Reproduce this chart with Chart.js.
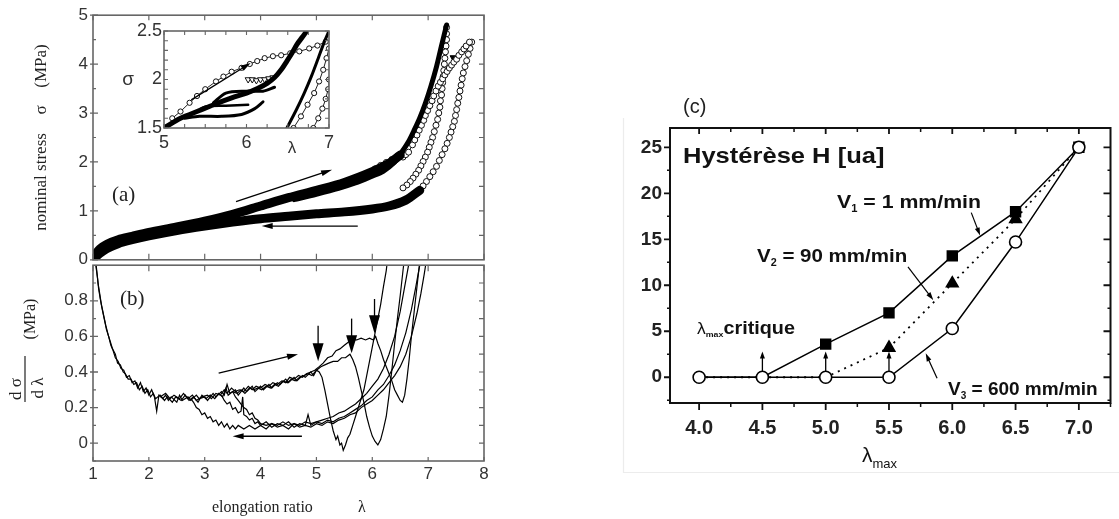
<!DOCTYPE html>
<html><head><meta charset="utf-8">
<script src="https://cdn.jsdelivr.net/npm/chart.js@4.4.1/dist/chart.umd.min.js"></script>
<style>
html,body{margin:0;padding:0;background:#fff;}
#wrap{position:relative;width:1119px;height:519px;overflow:hidden;background:#fff;}
canvas{position:absolute;}
</style></head><body>
<div id="wrap">
<canvas id="cA" width="500" height="275" style="left:0;top:0"></canvas>
<canvas id="cB" width="500" height="269" style="left:0;top:250px"></canvas>
<canvas id="cI" width="240" height="140" style="left:100px;top:20px"></canvas>
<canvas id="cC" width="499" height="439" style="left:620px;top:80px"></canvas>
</div>
<script>
// ---------- tick labels ----------
const abXTicks = [1,2,3,4,5,6,7,8];
const aYTicks = [0,1,2,3,4,5];
const bYTicks = [0,0.2,0.4,0.6,0.8];
const inXTicks = [5,6,7];
const inYTicks = [1.5,2,2.5];
const cXTicks = [4.0,4.5,5.0,5.5,6.0,6.5,7.0];
const cYTicks = [0,5,10,15,20,25];

// ---------- panel (c) data ----------
const cLambda = [4.0,4.5,5.0,5.5,6.0,6.5,7.0];
const cV1 = [0,0,3.6,7.0,13.2,18.0,25.0];
const cV2 = [0,0,0,3.2,10.2,17.2,25.0];
const cV3 = [0,0,0,0,5.3,14.7,25.0];

// ---------- panel (a) data: [lambda, sigma] ----------
const aLoad = [[1.0,0.0],[1.05,0.12],[1.12,0.22],[1.25,0.32],[1.45,0.41],[1.7,0.48],[2.0,0.56],[2.5,0.67],[3.0,0.79],[3.5,0.93],[4.0,1.1],[4.5,1.27],[5.0,1.42],[5.5,1.58],[6.0,1.8],[6.3,1.97],[6.5,2.14]];
const aLoadSteep = [[6.45,2.08],[6.55,2.24],[6.65,2.42],[6.75,2.65],[6.85,2.9],[6.95,3.2],[7.05,3.55],[7.15,3.95],[7.24,4.38],[7.33,4.8]];
const aUnload = [[6.85,1.42],[6.6,1.22],[6.3,1.1],[6.0,1.04],[5.5,0.98],[5.0,0.94],[4.5,0.89],[4.0,0.84],[3.5,0.77],[3.0,0.69],[2.5,0.6],[2.0,0.49],[1.7,0.41],[1.45,0.33],[1.25,0.23],[1.12,0.13],[1.05,0.06],[1.0,0.0]];
const aMidUnload = [[6.55,2.2],[6.4,1.98],[6.2,1.8],[6.0,1.7],[5.7,1.56],[5.4,1.45],[5.0,1.33],[4.6,1.22]];
const aMidReload = [[5.85,1.72],[5.95,1.79],[6.05,1.86],[6.15,1.93],[6.25,1.99],[6.35,2.05],[6.45,2.12]];
const aOpenLoad = [[6.55,2.1],[6.6,2.15],[6.65,2.2],[6.72,2.35],[6.76,2.45],[6.8,2.55],[6.84,2.65],[6.88,2.75],[6.92,2.85],[6.95,2.95],[6.99,3.05],[7.03,3.15],[7.07,3.25],[7.1,3.35],[7.14,3.45],[7.18,3.55],[7.22,3.63],[7.26,3.7],[7.3,3.78],[7.34,3.85],[7.38,3.92],[7.42,3.98],[7.46,4.04],[7.51,4.1],[7.55,4.18],[7.6,4.25],[7.64,4.31],[7.68,4.37],[7.74,4.45]];
const aOpenUnload1 = [[7.33,4.75],[7.33,4.62],[7.33,4.5],[7.32,4.37],[7.31,4.25],[7.3,4.12],[7.29,4.0],[7.28,3.87],[7.27,3.75],[7.26,3.62],[7.25,3.5],[7.24,3.37],[7.22,3.25],[7.21,3.12],[7.19,3.0],[7.17,2.87],[7.14,2.75],[7.11,2.62],[7.08,2.5],[7.05,2.4],[7.02,2.3],[6.99,2.2],[6.95,2.1],[6.91,2.01],[6.87,1.92],[6.83,1.83],[6.78,1.75],[6.73,1.67],[6.68,1.6],[6.62,1.53],[6.55,1.47]];
const aOpenUnload2 = [[7.78,4.45],[7.75,4.32],[7.72,4.2],[7.69,4.07],[7.66,3.95],[7.63,3.82],[7.61,3.7],[7.59,3.57],[7.57,3.45],[7.55,3.32],[7.53,3.2],[7.51,3.07],[7.49,2.95],[7.47,2.83],[7.44,2.72],[7.41,2.61],[7.38,2.5],[7.34,2.38],[7.3,2.27],[7.25,2.15],[7.2,2.03],[7.15,1.91],[7.09,1.8],[7.03,1.7],[6.97,1.6],[6.91,1.51],[6.85,1.42]];
const aLoneTri = [[7.47,4.12]];

// ---------- inset data ----------
const inMain = [[5.0,1.5],[5.2,1.6],[5.43,1.68],[5.6,1.74],[5.82,1.81],[6.0,1.86],[6.14,1.91],[6.25,1.96],[6.34,2.02],[6.42,2.1],[6.49,2.19],[6.55,2.27],[6.61,2.36],[6.68,2.44],[6.73,2.5]];
const inLoop1 = [[5.25,1.6],[5.43,1.62],[5.7,1.62],[5.94,1.64],[6.1,1.7],[6.2,1.77]];
const inLoop2 = [[5.38,1.66],[5.5,1.72],[5.75,1.73],[6.02,1.74]];
const inLoop3 = [[5.6,1.76],[5.75,1.86],[6.0,1.88],[6.2,1.88],[6.34,1.92]];
const inTri = [[6.02,2.0],[6.07,2.0],[6.12,1.99],[6.17,2.0],[6.22,2.0],[6.27,2.01],[6.32,2.02]];
const inUpper = [[5.1,1.6],[5.2,1.67],[5.31,1.76],[5.4,1.83],[5.5,1.9],[5.63,1.98],[5.72,2.03],[5.82,2.08],[5.94,2.12],[6.04,2.16],[6.13,2.19],[6.22,2.22],[6.32,2.24],[6.42,2.25],[6.53,2.27],[6.64,2.29],[6.76,2.32],[6.86,2.35],[6.96,2.39]];
const inSteepA = [[6.49,1.5],[6.6,1.68],[6.7,1.86],[6.79,2.04],[6.87,2.22],[6.94,2.38],[7.0,2.5]];
const inSteepB = [[6.57,1.5],[6.66,1.62],[6.74,1.74],[6.82,1.86],[6.88,1.98],[6.93,2.1],[6.97,2.22],[7.0,2.32]];
const inSteepC = [[6.81,1.5],[6.87,1.6],[6.92,1.7],[6.96,1.8],[6.99,1.9],[7.0,2.0]];

// ---------- panel (b) data: [lambda, dsigma/dlambda] ----------
const bC1 = [[1.05,1.0],[1.08,0.93],[1.1,0.87],[1.13,0.81],[1.16,0.76],[1.2,0.7],[1.24,0.64],[1.28,0.6],[1.32,0.55],[1.36,0.52],[1.4,0.48],[1.45,0.46],[1.5,0.42],[1.55,0.41],[1.6,0.37],[1.65,0.38],[1.7,0.34],[1.75,0.35],[1.8,0.31],[1.85,0.34],[1.9,0.29],[1.95,0.31],[2.0,0.27],[2.05,0.3],[2.1,0.26],[2.14,0.18],[2.18,0.27],[2.25,0.25],[2.3,0.27],[2.35,0.24],[2.4,0.26],[2.5,0.23],[2.55,0.27],[2.6,0.24],[2.7,0.26],[2.75,0.24],[2.85,0.27],[2.9,0.25],[3.0,0.26],[3.05,0.24],[3.15,0.28],[3.2,0.26],[3.3,0.29],[3.35,0.27],[3.4,0.33],[3.45,0.28],[3.55,0.3],[3.6,0.27],[3.7,0.31],[3.75,0.29],[3.85,0.32],[3.9,0.29],[4.0,0.32],[4.05,0.3],[4.15,0.33],[4.2,0.31],[4.3,0.34],[4.35,0.33],[4.45,0.36],[4.5,0.34],[4.6,0.37],[4.65,0.35],[4.75,0.38],[4.8,0.37],[4.9,0.4],[4.95,0.38],[5.0,0.41],[5.05,0.4],[5.1,0.37],[5.15,0.3],[5.2,0.22],[5.25,0.14],[5.3,0.07],[5.35,0.02],[5.38,0.04],[5.42,-0.01],[5.45,0.0],[5.48,-0.04],[5.52,-0.01],[5.56,0.03],[5.6,0.05],[5.65,0.1],[5.7,0.15],[5.75,0.2],[5.8,0.25],[5.85,0.3],[5.9,0.38],[5.95,0.46],[6.0,0.54],[6.05,0.62],[6.1,0.7],[6.15,0.78],[6.2,0.88],[6.25,0.97],[6.28,1.05]];
const bC2 = [[1.05,1.02],[1.09,0.9],[1.12,0.84],[1.15,0.78],[1.19,0.72],[1.23,0.66],[1.27,0.61],[1.31,0.57],[1.35,0.53],[1.4,0.5],[1.44,0.45],[1.49,0.44],[1.54,0.4],[1.58,0.39],[1.63,0.36],[1.68,0.36],[1.73,0.33],[1.78,0.34],[1.83,0.3],[1.88,0.32],[1.93,0.28],[1.98,0.3],[2.03,0.26],[2.08,0.28],[2.12,0.25],[2.2,0.27],[2.28,0.24],[2.33,0.26],[2.42,0.23],[2.48,0.26],[2.58,0.24],[2.65,0.27],[2.72,0.24],[2.8,0.26],[2.88,0.23],[2.95,0.27],[3.02,0.25],[3.1,0.27],[3.18,0.25],[3.25,0.28],[3.32,0.26],[3.38,0.31],[3.42,0.27],[3.5,0.29],[3.58,0.28],[3.65,0.3],[3.72,0.28],[3.8,0.31],[3.88,0.3],[3.95,0.31],[4.02,0.3],[4.1,0.32],[4.18,0.31],[4.25,0.33],[4.32,0.32],[4.4,0.35],[4.48,0.34],[4.55,0.36],[4.62,0.35],[4.7,0.37],[4.78,0.38],[4.85,0.39],[4.92,0.38],[5.0,0.41],[5.08,0.43],[5.15,0.44],[5.22,0.45],[5.3,0.46],[5.38,0.46],[5.45,0.48],[5.52,0.48],[5.6,0.5],[5.65,0.47],[5.7,0.43],[5.75,0.37],[5.8,0.3],[5.85,0.23],[5.9,0.15],[5.95,0.09],[6.0,0.04],[6.05,0.01],[6.1,-0.01],[6.15,0.02],[6.2,0.08],[6.25,0.15],[6.3,0.27],[6.35,0.41],[6.4,0.56],[6.45,0.7],[6.5,0.83],[6.55,0.97],[6.58,1.05]];
const bC3 = [[2.2,0.26],[2.3,0.28],[2.38,0.25],[2.45,0.27],[2.55,0.25],[2.62,0.28],[2.7,0.25],[2.78,0.27],[2.85,0.24],[2.95,0.26],[3.05,0.27],[3.12,0.25],[3.2,0.28],[3.28,0.27],[3.35,0.3],[3.4,0.28],[3.48,0.31],[3.55,0.29],[3.62,0.3],[3.7,0.29],[3.78,0.32],[3.85,0.3],[3.92,0.32],[4.0,0.31],[4.08,0.33],[4.15,0.32],[4.22,0.34],[4.3,0.33],[4.38,0.35],[4.45,0.34],[4.52,0.37],[4.6,0.36],[4.68,0.38],[4.75,0.37],[4.82,0.39],[4.9,0.4],[4.97,0.41],[5.05,0.43],[5.12,0.45],[5.2,0.48],[5.28,0.49],[5.35,0.52],[5.42,0.53],[5.5,0.55],[5.58,0.57],[5.65,0.58],[5.72,0.58],[5.8,0.59],[5.88,0.58],[5.95,0.59],[6.02,0.58],[6.06,0.6],[6.1,0.56],[6.15,0.52],[6.2,0.47],[6.25,0.43],[6.3,0.39],[6.35,0.35],[6.4,0.3],[6.45,0.27],[6.5,0.24],[6.54,0.23],[6.58,0.27],[6.62,0.36],[6.66,0.47],[6.7,0.6],[6.75,0.74],[6.8,0.88],[6.85,1.02],[6.87,1.05]];
const bU1 = [[2.75,0.25],[2.8,0.23],[2.85,0.2],[2.9,0.19],[2.95,0.16],[3.0,0.17],[3.05,0.14],[3.1,0.15],[3.15,0.12],[3.2,0.13],[3.25,0.1],[3.3,0.12],[3.35,0.09],[3.4,0.11],[3.45,0.08],[3.5,0.1],[3.55,0.08],[3.6,0.1],[3.7,0.08],[3.8,0.1],[3.9,0.08],[4.0,0.1],[4.1,0.08],[4.2,0.11],[4.3,0.09],[4.4,0.1],[4.5,0.08],[4.6,0.11],[4.7,0.09],[4.8,0.1],[4.9,0.09],[5.0,0.11],[5.1,0.1],[5.2,0.12],[5.3,0.11],[5.4,0.13],[5.5,0.14],[5.6,0.16],[5.7,0.17],[5.8,0.2],[5.9,0.22],[6.0,0.24],[6.1,0.27],[6.2,0.3],[6.3,0.34],[6.4,0.38],[6.5,0.43],[6.6,0.5],[6.7,0.6],[6.8,0.73],[6.87,0.84],[6.93,0.95],[6.98,1.05]];
const bU2 = [[3.3,0.27],[3.35,0.24],[3.4,0.22],[3.45,0.23],[3.5,0.19],[3.55,0.2],[3.6,0.17],[3.65,0.18],[3.68,0.26],[3.7,0.16],[3.75,0.15],[3.8,0.13],[3.85,0.14],[3.9,0.11],[3.95,0.12],[4.0,0.1],[4.1,0.12],[4.2,0.09],[4.3,0.11],[4.4,0.1],[4.5,0.12],[4.6,0.09],[4.7,0.11],[4.8,0.1],[4.85,0.16],[4.9,0.1],[5.0,0.12],[5.1,0.11],[5.2,0.13],[5.3,0.12],[5.4,0.14],[5.5,0.15],[5.6,0.17],[5.7,0.19],[5.8,0.21],[5.9,0.24],[6.0,0.26],[6.1,0.3],[6.2,0.33],[6.3,0.38],[6.4,0.44],[6.5,0.52],[6.6,0.62],[6.7,0.75],[6.78,0.88],[6.85,1.0],[6.88,1.05]];
const bU3 = [[3.5,0.29],[3.55,0.26],[3.6,0.24],[3.65,0.22],[3.7,0.2],[3.75,0.19],[3.8,0.16],[3.85,0.17],[3.9,0.14],[3.95,0.13],[4.0,0.11],[4.1,0.1],[4.2,0.11],[4.3,0.1],[4.4,0.12],[4.5,0.1],[4.6,0.11],[4.7,0.1],[4.8,0.12],[4.9,0.11],[5.0,0.12],[5.1,0.13],[5.2,0.14],[5.3,0.15],[5.4,0.17],[5.5,0.18],[5.6,0.2],[5.7,0.22],[5.8,0.25],[5.9,0.28],[6.0,0.32],[6.1,0.36],[6.2,0.42],[6.3,0.5],[6.4,0.6],[6.5,0.74],[6.58,0.88],[6.65,1.0],[6.68,1.05]];

// ---------- annotation placements (data coordinates) ----------
const annA = {arrows:[[3.56,1.19,5.28,1.84],[5.74,0.69,4.02,0.69]]};
const annB = {arrows:[[3.25,0.394,4.67,0.5],[4.74,0.039,3.5,0.039]], down:[[5.03,0.66,0.46],[5.63,0.70,0.505],[6.04,0.81,0.617]]};
const annI = {arrows:[[5.33,1.79,6.05,2.17]]};
const annC = {leaders:[[6.15,17.9,6.22,15.4],[5.65,12.0,5.85,8.4],[5.88,-0.1,5.79,2.6]], critique:[4.5,5.0,5.5]};

// ---------- helpers ----------
const xy = arr => arr.map(p => ({x:p[0], y:p[1]}));
const SANS = "'Liberation Sans', Arial, sans-serif";
const SERIF = "'Liberation Serif', 'Times New Roman', serif";

function arrow(ctx,x1,y1,x2,y2,hl,hw,lw){
  const a=Math.atan2(y2-y1,x2-x1), c=Math.cos(a), s=Math.sin(a);
  ctx.save(); ctx.lineWidth=lw; ctx.strokeStyle='#000'; ctx.fillStyle='#000';
  ctx.beginPath(); ctx.moveTo(x1,y1); ctx.lineTo(x2-c*hl*0.7,y2-s*hl*0.7); ctx.stroke();
  ctx.beginPath(); ctx.moveTo(x2,y2);
  ctx.lineTo(x2-c*hl-s*hw/2, y2-s*hl+c*hw/2);
  ctx.lineTo(x2-c*hl+s*hw/2, y2-s*hl-c*hw/2);
  ctx.closePath(); ctx.fill(); ctx.restore();
}
function frame(chart,color,lw){
  const a=chart.chartArea, ctx=chart.ctx;
  ctx.save(); ctx.strokeStyle=color; ctx.lineWidth=lw;
  ctx.strokeRect(a.left,a.top,a.right-a.left,a.bottom-a.top); ctx.restore();
}
function tickMarks(chart,edge,vals,inLen,outLen,color,lw){
  const a=chart.chartArea, ctx=chart.ctx;
  ctx.save(); ctx.strokeStyle=color; ctx.lineWidth=lw; ctx.beginPath();
  vals.forEach(v=>{
    if(edge==='top'||edge==='bottom'){
      const x=chart.scales.x.getPixelForValue(v);
      if(x<a.left-0.5||x>a.right+0.5) return;
      const y0=edge==='top'?a.top:a.bottom, d=edge==='top'?1:-1;
      ctx.moveTo(x,y0-d*outLen); ctx.lineTo(x,y0+d*inLen);
    } else {
      const y=chart.scales.y.getPixelForValue(v);
      if(y<a.top-0.5||y>a.bottom+0.5) return;
      const x0=edge==='left'?a.left:a.right, d=edge==='left'?1:-1;
      ctx.moveTo(x0-d*outLen,y); ctx.lineTo(x0+d*inLen,y);
    }
  });
  ctx.stroke(); ctx.restore();
}
function range(a,b,step){const r=[];for(let v=a;v<=b+1e-9;v+=step)r.push(+v.toFixed(4));return r;}
function textRot(ctx,txt,x,y,font,color){
  ctx.save(); ctx.translate(x,y); ctx.rotate(-Math.PI/2); ctx.font=font; ctx.fillStyle=color;
  ctx.textAlign='center'; ctx.textBaseline='middle'; ctx.fillText(txt,0,0); ctx.restore();
}
function runText(ctx,x,y,parts,sx){
  ctx.save(); ctx.translate(x,y); ctx.scale(sx,1); ctx.fillStyle='#111'; ctx.textBaseline='alphabetic'; ctx.textAlign='left';
  let cx=0;
  parts.forEach(p=>{ ctx.font=p[1]; ctx.fillText(p[0],cx,p[2]||0); cx+=ctx.measureText(p[0]).width; });
  ctx.restore();
}
const baseOpts = {responsive:false, animation:false, events:[], plugins:{legend:{display:false}, tooltip:{enabled:false}}};
function lineDs(data,bw,extra){return Object.assign({data:xy(data),borderColor:'#000',backgroundColor:'#000',borderWidth:bw,pointRadius:0,tension:0,fill:false,borderJoinStyle:'round',borderCapStyle:'round'},extra||{});}
function openDs(data,r,extra){return Object.assign({data:xy(data),borderColor:'#222',backgroundColor:'#fff',borderWidth:1,pointRadius:r,pointBorderWidth:1,pointBackgroundColor:'#fff',pointBorderColor:'#111',tension:0,fill:false},extra||{});}

// ---------- panel (a) ----------
new Chart(document.getElementById('cA'),{
  type:'line',
  data:{datasets:[
    lineDs(aLoad,9,{tension:0.3}),
    lineDs(aUnload,9,{tension:0.3}),
    lineDs(aLoadSteep,5,{tension:0.3}),
    lineDs(aMidUnload,4,{tension:0.3}),
    openDs(aMidReload,3),
    openDs(aOpenLoad,3),
    openDs(aOpenUnload1,3),
    openDs(aOpenUnload2,3),
    {data:xy(aLoneTri),showLine:false,pointStyle:'triangle',rotation:180,pointRadius:5,pointBackgroundColor:'#000',pointBorderColor:'#000'}
  ]},
  options:Object.assign({},baseOpts,{
    layout:{padding:{top:15,right:16,bottom:13,left:0}},
    scales:{
      x:{type:'linear',min:1,max:8,display:false},
      y:{type:'linear',min:0,max:5,afterFit(s){s.width=93;},afterBuildTicks(s){s.ticks=aYTicks.map(v=>({value:v}));},
         grid:{display:false,drawTicks:false},border:{display:false},
         ticks:{font:{family:SANS,size:17},color:'#333',padding:5}}
    }
  }),
  plugins:[{id:'decA',afterDraw(chart){
    const ctx=chart.ctx, X=v=>chart.scales.x.getPixelForValue(v), Y=v=>chart.scales.y.getPixelForValue(v);
    frame(chart,'#666',1.6);
    tickMarks(chart,'left',aYTicks,5,3,'#666',1.3);
    tickMarks(chart,'left',range(0.5,4.5,1),3,0,'#666',1.2);
    tickMarks(chart,'right',range(0.5,4.5,0.5),5,0,'#666',1.2);
    tickMarks(chart,'top',abXTicks,5,0,'#666',1.2);
    tickMarks(chart,'bottom',abXTicks,6,0,'#666',1.2);
    annA.arrows.forEach(a=>arrow(ctx,X(a[0]),Y(a[1]),X(a[2]),Y(a[3]),11,6,1.3));
    ctx.save(); ctx.fillStyle='#222'; ctx.font='21px '+SERIF; ctx.textBaseline='alphabetic';
    ctx.fillText('(a)',112,201); ctx.restore();
    textRot(ctx,'nominal stress',42,182,'17px '+SERIF,'#222');
    textRot(ctx,'σ',42,110,'17px '+SERIF,'#222');
    textRot(ctx,'(MPa)',42,66,'17px '+SERIF,'#222');
  }}]
});

// ---------- inset ----------
new Chart(document.getElementById('cI'),{
  type:'line',
  data:{datasets:[
    lineDs(inMain,5,{tension:0.3}),
    lineDs(inLoop1,3,{tension:0.3}),
    lineDs(inLoop2,2.5,{tension:0.3}),
    lineDs(inLoop3,3,{tension:0.3}),
    lineDs(inSteepA,3,{tension:0.3}),
    openDs(inUpper,2.6),
    openDs(inSteepB,2.6),
    openDs(inSteepC,2.6),
    {data:xy(inTri),showLine:false,pointStyle:'triangle',rotation:180,pointRadius:3.5,pointBackgroundColor:'#fff',pointBorderColor:'#111',pointBorderWidth:1}
  ]},
  options:Object.assign({},baseOpts,{
    layout:{padding:{top:9,right:7,bottom:0,left:0}},
    scales:{
      x:{type:'linear',min:5,max:7,afterFit(s){s.height=32;},afterBuildTicks(s){s.ticks=inXTicks.map(v=>({value:v}));},
         grid:{display:false,drawTicks:false},border:{display:false},
         ticks:{font:{family:SANS,size:18,lineHeight:1},color:'#333',padding:6,maxRotation:0}},
      y:{type:'linear',min:1.5,max:2.5,afterFit(s){s.width=64;},afterBuildTicks(s){s.ticks=inYTicks.map(v=>({value:v}));},
         grid:{display:false,drawTicks:false},border:{display:false},
         ticks:{font:{family:SANS,size:18,lineHeight:1},color:'#333',padding:2,callback:v=>String(v)}}
    }
  }),
  plugins:[{id:'decI',afterDraw(chart){
    const ctx=chart.ctx, X=v=>chart.scales.x.getPixelForValue(v), Y=v=>chart.scales.y.getPixelForValue(v);
    frame(chart,'#666',1.6);
    const xt=range(5,7,0.25), yt=range(1.5,2.5,0.1);
    tickMarks(chart,'top',xt,4,0,'#666',1.1);
    tickMarks(chart,'bottom',xt,4,0,'#666',1.1);
    tickMarks(chart,'left',yt,4,0,'#666',1.1);
    tickMarks(chart,'right',yt,4,0,'#666',1.1);
    annI.arrows.forEach(a=>arrow(ctx,X(a[0]),Y(a[1]),X(a[2]),Y(a[3]),10,6,1.3));
    ctx.save(); ctx.fillStyle='#333'; ctx.textAlign='center'; ctx.textBaseline='middle';
    ctx.font='19px '+SANS; ctx.fillText('σ',28,60);
    ctx.font='17px '+SANS; ctx.fillText('λ',192,128);
    ctx.restore();
  }}]
});

// ---------- panel (b) ----------
new Chart(document.getElementById('cB'),{
  type:'line',
  data:{datasets:[bC1,bC2,bC3,bU1,bU2,bU3].map(d=>lineDs(d,1.2,{borderJoinStyle:'miter',borderCapStyle:'butt'}))},
  options:Object.assign({},baseOpts,{
    layout:{padding:{top:12,right:16,bottom:0,left:0}},
    scales:{
      x:{type:'linear',min:1,max:8,afterFit(s){s.height=58;},afterBuildTicks(s){s.ticks=abXTicks.map(v=>({value:v}));},
         grid:{display:false,drawTicks:false},border:{display:false},
         ticks:{font:{family:SANS,size:17},color:'#333',padding:3,maxRotation:0}},
      y:{type:'linear',min:-0.1,max:1.0,afterFit(s){s.width=93;},afterBuildTicks(s){s.ticks=bYTicks.map(v=>({value:v}));},
         grid:{display:false,drawTicks:false},border:{display:false},
         ticks:{font:{family:SANS,size:17},color:'#333',padding:5,callback:v=>v===0?'0':v.toFixed(1)}}
    }
  }),
  plugins:[{id:'decB',afterDraw(chart){
    const ctx=chart.ctx, X=v=>chart.scales.x.getPixelForValue(v), Y=v=>chart.scales.y.getPixelForValue(v);
    frame(chart,'#666',1.6);
    tickMarks(chart,'left',bYTicks,5,3,'#666',1.3);
    tickMarks(chart,'left',range(-0.1,0.9,0.2),3,0,'#666',1.2);
    tickMarks(chart,'right',range(0,0.9,0.1),5,0,'#666',1.2);
    tickMarks(chart,'top',abXTicks,6,0,'#666',1.2);
    tickMarks(chart,'bottom',abXTicks,4,0,'#666',1.2);
    annB.arrows.forEach(a=>arrow(ctx,X(a[0]),Y(a[1]),X(a[2]),Y(a[3]),11,6,1.3));
    annB.down.forEach(a=>arrow(ctx,X(a[0]),Y(a[1]),X(a[0]),Y(a[2]),18,11,1.3));
    ctx.save(); ctx.fillStyle='#222'; ctx.font='21px '+SERIF; ctx.textBaseline='alphabetic';
    ctx.fillText('(b)',120,55);
    ctx.font='16px '+SERIF; ctx.fillText('elongation ratio',212,262); ctx.fillText('λ',358,262);
    ctx.restore();
    ctx.save(); ctx.translate(25,130); ctx.rotate(-Math.PI/2);
    ctx.strokeStyle='#222'; ctx.lineWidth=1.2; ctx.beginPath(); ctx.moveTo(-22,0); ctx.lineTo(24,0); ctx.stroke();
    ctx.fillStyle='#222'; ctx.font='17px '+SERIF; ctx.textAlign='center';
    ctx.textBaseline='alphabetic'; ctx.fillText('d σ',-9,-4);
    ctx.textBaseline='top'; ctx.fillText('d λ',-8,5);
    ctx.restore();
    textRot(ctx,'(MPa)',31,69,'16px '+SERIF,'#222');
  }}]
});

// ---------- panel (c) ----------
const cPts = ys => cLambda.map((x,i)=>({x,y:ys[i]}));
new Chart(document.getElementById('cC'),{
  type:'line',
  data:{datasets:[
    {label:'V1 = 1 mm/min',data:cPts(cV1),borderColor:'#000',borderWidth:1.5,tension:0,pointStyle:'rect',
     pointRadius:[0,0,7,7,7,7,7],pointBackgroundColor:['#000','#000','#000','#000','#000','#000','#fff'],pointBorderColor:'#000',pointBorderWidth:1.5,order:2},
    {label:'V2 = 90 mm/min',data:cPts(cV2),borderColor:'#000',borderWidth:1.8,borderDash:[2,5],tension:0,pointStyle:'triangle',
     pointRadius:[0,0,0,6.5,6.5,6.5,0],pointBackgroundColor:'#000',pointBorderColor:'#000',order:1},
    {label:'V3 = 600 mm/min',data:cPts(cV3),borderColor:'#000',borderWidth:1.5,tension:0,pointStyle:'circle',
     pointRadius:6,pointBackgroundColor:'#fff',pointBorderColor:'#000',pointBorderWidth:1.6,order:0}
  ]},
  options:Object.assign({},baseOpts,{
    layout:{padding:{top:48,right:1,bottom:0,left:0}},
    scales:{
      x:{type:'linear',min:3.77,max:7.25,afterFit(s){s.height=116;},afterBuildTicks(s){s.ticks=cXTicks.map(v=>({value:v}));},
         grid:{display:false,drawTicks:false},border:{display:false},
         ticks:{font:{family:SANS,size:20,weight:'bold'},color:'#222',padding:13,maxRotation:0,callback:v=>v.toFixed(1)}},
      y:{type:'linear',min:-2.8,max:27.1,afterFit(s){s.width=50;},afterBuildTicks(s){s.ticks=cYTicks.map(v=>({value:v}));},
         grid:{display:false,drawTicks:false},border:{display:false},
         ticks:{font:{family:SANS,size:19,weight:'bold'},color:'#222',padding:8}}
    }
  }),
  plugins:[{id:'decC',beforeDraw(chart){
    const ctx=chart.ctx; ctx.save(); ctx.strokeStyle='#ececec'; ctx.lineWidth=1.2;
    ctx.beginPath(); ctx.moveTo(3.5,38); ctx.lineTo(3.5,392.5); ctx.lineTo(499,392.5); ctx.stroke(); ctx.restore();
  },afterDraw(chart){
    const ctx=chart.ctx, X=v=>chart.scales.x.getPixelForValue(v), Y=v=>chart.scales.y.getPixelForValue(v);
    frame(chart,'#111',2);
    tickMarks(chart,'left',cYTicks,0,6,'#111',1.8);
    tickMarks(chart,'left',range(-2.5,22.5,5),0,3,'#111',1.5);
    tickMarks(chart,'right',cYTicks,7,0,'#111',1.8);
    tickMarks(chart,'right',range(-2.5,22.5,5),3,0,'#111',1.5);
    tickMarks(chart,'top',cXTicks,6,0,'#111',1.8);
    tickMarks(chart,'top',range(4.25,6.75,0.5),4,0,'#111',1.5);
    tickMarks(chart,'bottom',cXTicks,0,7,'#111',1.8);
    tickMarks(chart,'bottom',range(3.75,7.25,0.5),0,4,'#111',1.5);
    annC.leaders.forEach(a=>arrow(ctx,X(a[0]),Y(a[1]),X(a[2]),Y(a[3]),8,5,1.2));
    annC.critique.forEach(v=>arrow(ctx,X(v),Y(0)-6,X(v),Y(2.8),7,5,1.3));
    const B='bold ';
    ctx.save(); ctx.fillStyle='#222'; ctx.font='20px '+SANS; ctx.fillText('(c)',63,33); ctx.restore();
    runText(ctx,63,83,[['Hystérèse H [ua]',B+'22px '+SANS]],1.16);
    runText(ctx,217,128,[['V',B+'19px '+SANS],['1',B+'10px '+SANS,4],[' = 1 mm/min',B+'19px '+SANS]],1.12);
    runText(ctx,137,182,[['V',B+'19px '+SANS],['2',B+'10px '+SANS,4],[' = 90 mm/min',B+'19px '+SANS]],1.08);
    runText(ctx,328,315,[['V',B+'19px '+SANS],['3',B+'10px '+SANS,4],[' = 600 mm/min',B+'19px '+SANS]],1.0);
    runText(ctx,77,254,[['λ','16px '+SANS],['max',B+'8px '+SANS,3],['critique',B+'18px '+SANS]],1.1);
    runText(ctx,242,382,[['λ','21px '+SANS],['max','13px '+SANS,6]],1.0);
  }}]
});
</script>
</body></html>
